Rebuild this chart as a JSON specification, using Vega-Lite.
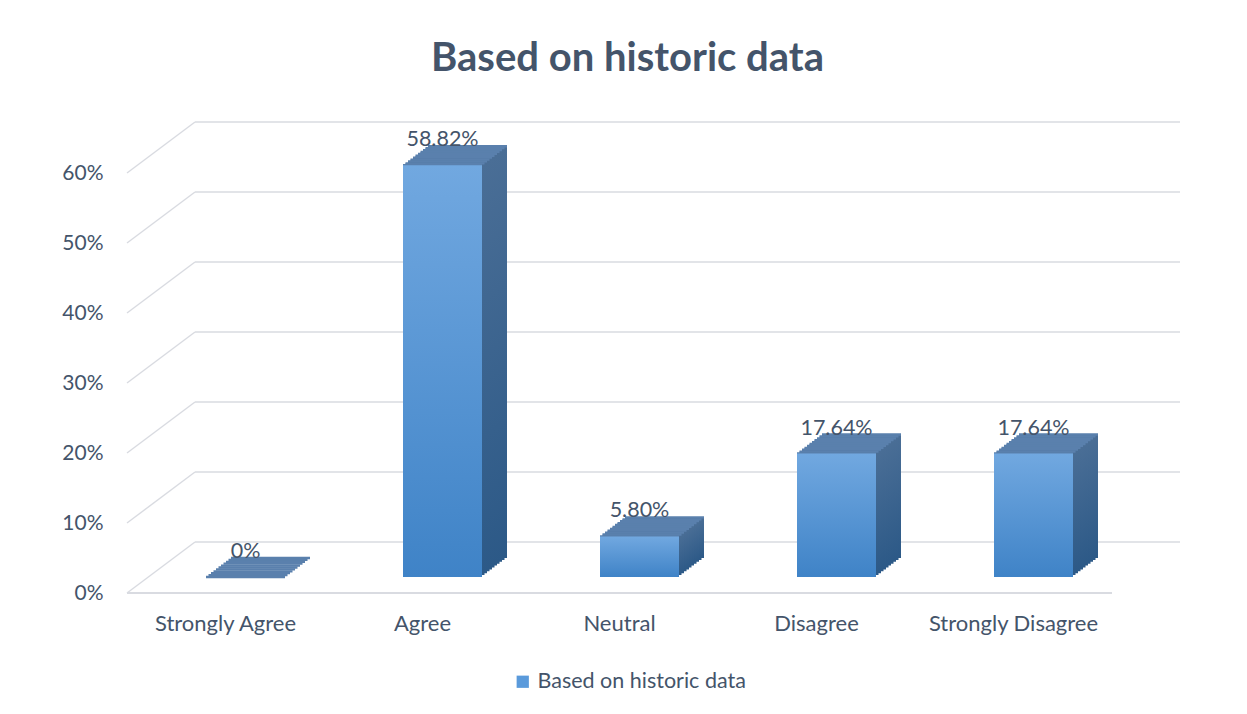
{
  "$schema": "https://vega.github.io/schema/vega-lite/v6.json",
  "autosize": "none",
  "width": 985,
  "height": 420,
  "padding": {"left": 127, "top": 173, "right": 135, "bottom": 121},
  "background": "white",
  "title": {"text": "Based on historic data", "fontSize": 40, "fontWeight": "bold", "color": "#44546A", "font": "Lato", "offset": 42, "dx": 8, "anchor": "middle"},
  "config": {"view": {"stroke": null}, "font": "Lato"},
  "datasets": {
    "bars": [
      {"cat": "Strongly Agree", "val": 0, "lab": "0%"},
      {"cat": "Agree", "val": 0.5882, "lab": "58.82%"},
      {"cat": "Neutral", "val": 0.058, "lab": "5.80%"},
      {"cat": "Disagree", "val": 0.1764, "lab": "17.64%"},
      {"cat": "Strongly Disagree", "val": 0.1764, "lab": "17.64%"}
    ],
    "grid": [{"v": 0}, {"v": 0.1}, {"v": 0.2}, {"v": 0.3}, {"v": 0.4}, {"v": 0.5}, {"v": 0.6}]
  },
  "layer": [
    {
      "data": {"name": "grid"},
      "encoding": {
        "y": {"field": "v", "type": "quantitative", "scale": {"domain": [0, 0.6], "nice": false, "zero": true},
              "axis": {"title": null, "values": [0, 0.1, 0.2, 0.3, 0.4, 0.5, 0.6], "format": ".0%", "domain": false, "ticks": false, "grid": false, "labelPadding": 24, "labelFontSize": 21, "labelColor": "#44546A", "labelFont": "Lato"}}
      },
      "layer": [
        {
          "mark": {"type": "rule", "color": "#D9DBE1", "strokeWidth": 1.4, "xOffset": 68, "x2Offset": 68, "yOffset": -51, "y2Offset": -51},
          "encoding": {
            "x": {"datum": 0, "type": "quantitative", "scale": {"domain": [0, 1]}, "axis": null},
            "x2": {"datum": 1}
          }
        },
        {
          "mark": {"type": "rule", "color": "#D9DBE1", "strokeWidth": 1.4, "x2Offset": 68, "y2Offset": -51},
          "encoding": {
            "x": {"datum": 0, "type": "quantitative", "scale": {"domain": [0, 1]}, "axis": null},
            "x2": {"datum": 0},
            "y2": {"field": "v"}
          }
        },
        {
          "mark": {"type": "rule", "color": "#D9DBE1", "strokeWidth": 1.4},
          "encoding": {
            "x": {"datum": 0, "type": "quantitative", "scale": {"domain": [0, 1]}, "axis": null},
            "x2": {"datum": 1},
            "y": {"datum": 0, "type": "quantitative"}
          }
        }
      ]
    },
    {
      "data": {"name": "bars"},
      "encoding": {
        "x": {"field": "cat", "type": "nominal", "sort": null, "scale": {"type": "band", "paddingInner": 0, "paddingOuter": 0},
              "axis": {"title": null, "labelAngle": 0, "domain": false, "ticks": false, "labelPadding": 20, "labelFontSize": 22, "labelColor": "#44546A", "labelFont": "Lato", "labelLimit": 300}},
        "y": {"field": "val", "type": "quantitative",
              "axis": {"title": null, "values": [0, 0.1, 0.2, 0.3, 0.4, 0.5, 0.6], "format": ".0%", "domain": false, "ticks": false, "grid": false, "labelPadding": 24, "labelFontSize": 21, "labelColor": "#44546A", "labelFont": "Lato"}}
      },
      "layer": [
        {"mark": {"type": "bar", "orient": "vertical", "width": 79, "xOffset": 45, "yOffset": -35, "y2Offset": -35, "fill": {"gradient": "linear", "x1": 0, "y1": 0, "x2": 0, "y2": 1, "stops": [{"offset": 0, "color": "#4A6E96"}, {"offset": 1, "color": "#2C5987"}]}}},
        {"mark": {"type": "bar", "orient": "vertical", "width": 79, "xOffset": 42.5, "yOffset": -33.1, "y2Offset": -33.1, "fill": {"gradient": "linear", "x1": 0, "y1": 0, "x2": 0, "y2": 1, "stops": [{"offset": 0, "color": "#4A6E96"}, {"offset": 1, "color": "#2C5987"}]}}},
        {"mark": {"type": "bar", "orient": "vertical", "width": 79, "xOffset": 40, "yOffset": -31.2, "y2Offset": -31.2, "fill": {"gradient": "linear", "x1": 0, "y1": 0, "x2": 0, "y2": 1, "stops": [{"offset": 0, "color": "#4A6E96"}, {"offset": 1, "color": "#2C5987"}]}}},
        {"mark": {"type": "bar", "orient": "vertical", "width": 79, "xOffset": 37.5, "yOffset": -29.3, "y2Offset": -29.3, "fill": {"gradient": "linear", "x1": 0, "y1": 0, "x2": 0, "y2": 1, "stops": [{"offset": 0, "color": "#4A6E96"}, {"offset": 1, "color": "#2C5987"}]}}},
        {"mark": {"type": "bar", "orient": "vertical", "width": 79, "xOffset": 35, "yOffset": -27.4, "y2Offset": -27.4, "fill": {"gradient": "linear", "x1": 0, "y1": 0, "x2": 0, "y2": 1, "stops": [{"offset": 0, "color": "#4A6E96"}, {"offset": 1, "color": "#2C5987"}]}}},
        {"mark": {"type": "bar", "orient": "vertical", "width": 79, "xOffset": 32.5, "yOffset": -25.5, "y2Offset": -25.5, "fill": {"gradient": "linear", "x1": 0, "y1": 0, "x2": 0, "y2": 1, "stops": [{"offset": 0, "color": "#4A6E96"}, {"offset": 1, "color": "#2C5987"}]}}},
        {"mark": {"type": "bar", "orient": "vertical", "width": 79, "xOffset": 30, "yOffset": -23.6, "y2Offset": -23.6, "fill": {"gradient": "linear", "x1": 0, "y1": 0, "x2": 0, "y2": 1, "stops": [{"offset": 0, "color": "#4A6E96"}, {"offset": 1, "color": "#2C5987"}]}}},
        {"mark": {"type": "bar", "orient": "vertical", "width": 79, "xOffset": 27.5, "yOffset": -21.7, "y2Offset": -21.7, "fill": {"gradient": "linear", "x1": 0, "y1": 0, "x2": 0, "y2": 1, "stops": [{"offset": 0, "color": "#4A6E96"}, {"offset": 1, "color": "#2C5987"}]}}},
        {"mark": {"type": "bar", "orient": "vertical", "width": 79, "xOffset": 25, "yOffset": -19.8, "y2Offset": -19.8, "fill": {"gradient": "linear", "x1": 0, "y1": 0, "x2": 0, "y2": 1, "stops": [{"offset": 0, "color": "#4A6E96"}, {"offset": 1, "color": "#2C5987"}]}}},
        {"mark": {"type": "bar", "orient": "vertical", "width": 79, "xOffset": 22.5, "yOffset": -17.9, "y2Offset": -17.9, "fill": {"gradient": "linear", "x1": 0, "y1": 0, "x2": 0, "y2": 1, "stops": [{"offset": 0, "color": "#4A6E96"}, {"offset": 1, "color": "#2C5987"}]}}},
        {"mark": {"type": "tick", "orient": "horizontal", "size": 79, "thickness": 2.3, "xOffset": 45, "yOffset": -35, "color": "#5A80AD", "opacity": 1}},
        {"mark": {"type": "tick", "orient": "horizontal", "size": 79, "thickness": 2.3, "xOffset": 42.5, "yOffset": -33.1, "color": "#5A80AD", "opacity": 1}},
        {"mark": {"type": "tick", "orient": "horizontal", "size": 79, "thickness": 2.3, "xOffset": 40, "yOffset": -31.2, "color": "#5A80AD", "opacity": 1}},
        {"mark": {"type": "tick", "orient": "horizontal", "size": 79, "thickness": 2.3, "xOffset": 37.5, "yOffset": -29.3, "color": "#5A80AD", "opacity": 1}},
        {"mark": {"type": "tick", "orient": "horizontal", "size": 79, "thickness": 2.3, "xOffset": 35, "yOffset": -27.4, "color": "#5A80AD", "opacity": 1}},
        {"mark": {"type": "tick", "orient": "horizontal", "size": 79, "thickness": 2.3, "xOffset": 32.5, "yOffset": -25.5, "color": "#5A80AD", "opacity": 1}},
        {"mark": {"type": "tick", "orient": "horizontal", "size": 79, "thickness": 2.3, "xOffset": 30, "yOffset": -23.6, "color": "#5A80AD", "opacity": 1}},
        {"mark": {"type": "tick", "orient": "horizontal", "size": 79, "thickness": 2.3, "xOffset": 27.5, "yOffset": -21.7, "color": "#5A80AD", "opacity": 1}},
        {"mark": {"type": "tick", "orient": "horizontal", "size": 79, "thickness": 2.3, "xOffset": 25, "yOffset": -19.8, "color": "#5A80AD", "opacity": 1}},
        {"mark": {"type": "tick", "orient": "horizontal", "size": 79, "thickness": 2.3, "xOffset": 22.5, "yOffset": -17.9, "color": "#5A80AD", "opacity": 1}},
        {"mark": {"type": "tick", "orient": "horizontal", "size": 79, "thickness": 2.3, "xOffset": 20, "yOffset": -16, "color": "#5A80AD", "opacity": 1}},
        {
          "mark": {"type": "bar", "orient": "vertical", "width": 79, "xOffset": 20, "yOffset": -16, "y2Offset": -16, "fill": {"gradient": "linear", "x1": 0, "y1": 0, "x2": 0, "y2": 1, "stops": [{"offset": 0, "color": "#71A8E0"}, {"offset": 1, "color": "#3F83C7"}]}}
        },
        {
          "transform": [{"filter": "false"}],
          "mark": {"type": "bar", "orient": "vertical", "width": 79},
          "encoding": {
            "color": {"datum": "Based on historic data",
                      "scale": {"range": ["#5A9ADB"]},
                      "legend": {"orient": "none", "legendX": 385, "legendY": 498, "title": null, "labelFontSize": 21.5, "labelColor": "#44546A", "labelFont": "Lato", "labelLimit": 400, "symbolType": "square", "symbolSize": 150, "symbolStrokeWidth": 0, "labelOffset": 4,
                                 "encode": {"symbols": {"update": {"fill": {"value": {"gradient": "linear", "x1": 0, "y1": 0, "x2": 0, "y2": 1, "stops": [{"offset": 0, "color": "#71A8E0"}, {"offset": 1, "color": "#3F83C7"}]}}}}}}}
          }
        },
        {
          "mark": {"type": "text", "xOffset": 20, "yOffset": -35, "baseline": "alphabetic", "fontSize": 21.5, "color": "#44546A", "font": "Lato"},
          "encoding": {"text": {"field": "lab"}}
        }
      ]
    }
  ],
  "resolve": {"scale": {"x": "independent"}}
}
